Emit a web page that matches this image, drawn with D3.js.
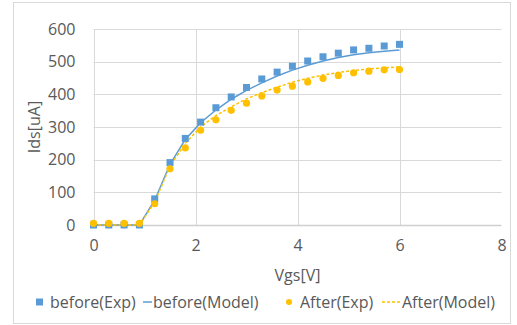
<!DOCTYPE html>
<html>
<head>
<meta charset="utf-8">
<script src="https://cdn.jsdelivr.net/npm/d3@7"></script>
<style>
  body { margin: 0; background: #fff; }
  svg { display: block; font-family: 'Open Sans', sans-serif; }
</style>
</head>
<body>
<svg id="chart" width="517" height="325"></svg>
<script>
// Vgs sweep (V)
const vgs = [0, 0.3, 0.6, 0.9, 1.2, 1.5, 1.8, 2.1, 2.4, 2.7, 3.0, 3.3, 3.6, 3.9, 4.2, 4.5, 4.8, 5.1, 5.4, 5.7, 6.0];
// Ids (uA)
const beforeExp   = [0, 0, 0, 0, 80, 191, 265, 315, 359, 392, 421, 447, 468, 486, 502, 515, 526, 536, 541, 548, 553];
const beforeModel = [0, 0, 0, 0, 76, 186, 262, 313, 352, 385, 412, 435, 456, 474, 489, 502, 513, 521, 527, 532, 536];
const afterExp    = [5, 5, 5, 5, 65, 172, 236, 290, 322, 351, 373, 395, 413, 425, 438, 449, 458, 466, 471, 475, 476];
const afterModel  = [0, 0, 0, 0, 70, 180, 250, 300, 335, 362, 386, 405, 422, 437, 449, 459, 467, 473, 478, 481, 484];

const xTicks = [0, 2, 4, 6, 8];
const yTicks = [0, 100, 200, 300, 400, 500, 600];

const blue = '#5B9BD5', orange = '#FFC000', textCol = '#595959', gridCol = '#d9d9d9';
const fontSize = 16;

const svg = d3.select('#chart');
svg.append('rect')
  .attr('x', 13.5).attr('y', 2.5).attr('width', 497).attr('height', 321)
  .attr('fill', '#fff').attr('stroke', '#d9d9d9');

const x = d3.scaleLinear().domain([0, 8]).range([93.5, 501.5]);
const y = d3.scaleLinear().domain([0, 600]).range([225, 29]);

// gridlines
svg.append('g').selectAll('line').data(yTicks.filter(d => d > 0)).join('line')
  .attr('x1', x(0)).attr('x2', x(8))
  .attr('y1', d => Math.round(y(d)) + 0.5).attr('y2', d => Math.round(y(d)) + 0.5)
  .attr('stroke', gridCol);
svg.append('g').selectAll('line').data(xTicks.filter(d => d < 8)).join('line')
  .attr('x1', d => Math.round(x(d)) + 0.5).attr('x2', d => Math.round(x(d)) + 0.5)
  .attr('y1', y(0)).attr('y2', y(600))
  .attr('stroke', gridCol);
svg.append('line')
  .attr('x1', x(0)).attr('x2', x(8)).attr('y1', y(0) + 0.5).attr('y2', y(0) + 0.5)
  .attr('stroke', '#d0d0d0').attr('stroke-width', 1.5);

// axes (labels only)
const yAxis = svg.append('g').attr('transform', `translate(${x(0) - 18},0)`)
  .call(d3.axisLeft(y).tickValues(yTicks).tickSize(0).tickPadding(0));
const xAxis = svg.append('g').attr('transform', `translate(0,${y(0) + 15})`)
  .call(d3.axisBottom(x).tickValues(xTicks).tickSize(0).tickPadding(0));
[yAxis, xAxis].forEach(a => {
  a.select('.domain').remove();
  a.selectAll('text').attr('fill', textCol).attr('font-size', fontSize)
    .attr('font-family', "'Open Sans', sans-serif");
});

svg.append('text').attr('x', x(4)).attr('y', 281).attr('text-anchor', 'middle')
  .attr('fill', textCol).attr('font-size', fontSize).text('Vgs[V]');
svg.append('text').attr('transform', 'translate(40,127) rotate(-90)').attr('text-anchor', 'middle')
  .attr('fill', textCol).attr('font-size', fontSize).text('Ids[uA]');

const line = d3.line().x(d => x(d[0])).y(d => y(d[1]));
const pts = arr => vgs.map((v, i) => [v, arr[i]]);

svg.append('path').datum(pts(beforeModel)).attr('d', line)
  .attr('fill', 'none').attr('stroke', blue).attr('stroke-width', 1.5);
svg.append('path').datum(pts(afterModel)).attr('d', line)
  .attr('fill', 'none').attr('stroke', orange).attr('stroke-width', 1.5)
  .attr('stroke-dasharray', '3,2');

svg.append('g').selectAll('rect').data(pts(beforeExp)).join('rect')
  .attr('x', d => x(d[0]) - 3.5).attr('y', d => y(d[1]) - 3.5)
  .attr('width', 7).attr('height', 7).attr('fill', blue);
svg.append('g').selectAll('circle').data(pts(afterExp)).join('circle')
  .attr('cx', d => x(d[0])).attr('cy', d => y(d[1])).attr('r', 3.6)
  .attr('fill', orange);

// legend
const ly = 302;
const lg = svg.append('g').attr('font-size', fontSize).attr('fill', textCol);
lg.append('rect').attr('x', 36).attr('y', ly - 3.5).attr('width', 7).attr('height', 7).attr('fill', blue);
lg.append('text').attr('x', 50).attr('y', ly + 5.5).text('before(Exp)');
lg.append('line').attr('x1', 143).attr('x2', 152).attr('y1', ly).attr('y2', ly)
  .attr('stroke', blue).attr('stroke-width', 1.5);
lg.append('text').attr('x', 153).attr('y', ly + 5.5).text('before(Model)');
lg.append('circle').attr('cx', 289).attr('cy', ly).attr('r', 3).attr('fill', orange);
lg.append('text').attr('x', 300).attr('y', ly + 5.5).text('After(Exp)');
lg.append('line').attr('x1', 382).attr('x2', 401).attr('y1', ly).attr('y2', ly)
  .attr('stroke', orange).attr('stroke-width', 1.5).attr('stroke-dasharray', '3,2');
lg.append('text').attr('x', 402).attr('y', ly + 5.5).text('After(Model)');
</script>
</body>
</html>
